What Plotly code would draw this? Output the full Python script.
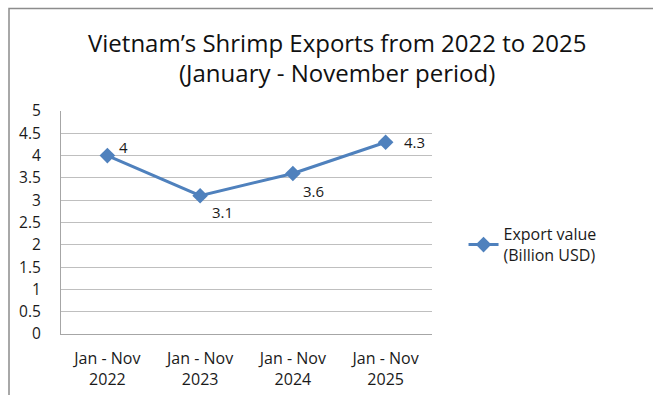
import plotly.graph_objects as go

categories = ["Jan - Nov<br>2022", "Jan - Nov<br>2023", "Jan - Nov<br>2024", "Jan - Nov<br>2025"]
values = [4.0, 3.1, 3.6, 4.3]
labels = ["4", "3.1", "3.6", "4.3"]
label_shift = [(16, 9), (22, -16), (21, -18), (29, 0)]  # (px right, px up) from marker
series_name = "Export value<br>(Billion USD)"
title_lines = ["Vietnam’s Shrimp Exports from 2022 to 2025", "(January - November period)"]

FONT = "Open Sans, Noto Sans, DejaVu Sans, sans-serif"
BLUE = "#4F81BD"
TXT = "#1a1a1a"

fig = go.Figure()
fig.add_trace(go.Scatter(
    x=categories, y=values, mode="lines+markers",
    name=series_name,
    line=dict(color=BLUE, width=3),
    marker=dict(symbol="diamond", size=12, color=BLUE),
))

for c, v, t, (dx, dy) in zip(categories, values, labels, label_shift):
    fig.add_annotation(x=c, y=v, text=t, showarrow=False, xanchor="center", yanchor="middle",
                       xshift=dx, yshift=dy, font=dict(family=FONT, size=15, color=TXT))

fig.update_layout(
    width=653, height=395,
    margin=dict(l=61, r=221, t=111, b=61),
    paper_bgcolor="white", plot_bgcolor="white",
    font=dict(family=FONT, size=15, color=TXT),
    showlegend=True,
    legend=dict(x=1.085, y=0.40, xanchor="left", yanchor="middle",
                font=dict(family=FONT, size=16, color=TXT),
                bgcolor="rgba(0,0,0,0)"),
    xaxis=dict(range=[-0.5, 3.5], showgrid=False, showline=True, linecolor="#A6A6A6",
               linewidth=1, ticks="", tickfont=dict(size=16), ticklabelstandoff=10,
               fixedrange=True, automargin=False),
    yaxis=dict(range=[0, 5], dtick=0.5, showgrid=True, gridcolor="#BFBFBF", gridwidth=1,
               showline=True, linecolor="#A6A6A6", linewidth=1, ticks="",
               tickfont=dict(size=15.5), ticklabelstandoff=16, zeroline=False,
               tickformat="~g", automargin=False),
)

# title lines
for line, ypix in zip(title_lines, [42, 73]):
    fig.add_annotation(text=line, xref="paper", yref="paper",
                       x=(337 - 61) / 371, y=(334 - ypix) / 223, xanchor="center", yanchor="middle",
                       showarrow=False, font=dict(family=FONT, size=24, color="#111"))

# outer chart border (extends past the visible crop on right and bottom)
fig.add_shape(type="rect", xref="paper", yref="paper",
              x0=(9 - 61) / 371, x1=3, y0=-3, y1=(334 - 8.5) / 223,
              line=dict(color="#8C8C8C", width=1.5), layer="below")

fig.write_html("out.html")
